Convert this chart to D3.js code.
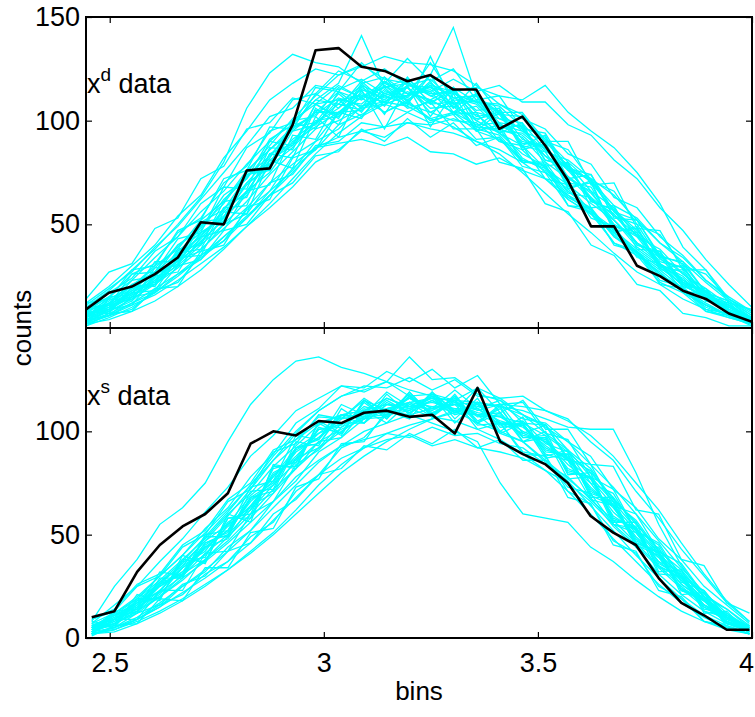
<!DOCTYPE html>
<html>
<head>
<meta charset="utf-8">
<script src="https://cdn.jsdelivr.net/npm/d3@7"></script>
<style>
  body { margin: 0; background: #fff; }
  text { font-family: "Liberation Sans", Arial, sans-serif; }
</style>
</head>
<body>
<svg id="chart" width="755" height="717"></svg>
<script>
// bin centres (x) for each panel
const binsTop = [2.4446, 2.4982, 2.5518, 2.6055, 2.6591, 2.7127, 2.7663, 2.8199, 2.8736, 2.9272,
                 2.9808, 3.0344, 3.0880, 3.1417, 3.1953, 3.2489, 3.3025, 3.3561, 3.4098, 3.4634,
                 3.5170, 3.5706, 3.6242, 3.6779, 3.7315, 3.7851, 3.8387, 3.8923, 3.9460, 3.9996];
const binsBottom = [2.458, 2.511, 2.564, 2.617, 2.670, 2.723, 2.776, 2.829, 2.882, 2.935,
                    2.988, 3.041, 3.094, 3.147, 3.200, 3.253, 3.306, 3.359, 3.412, 3.465,
                    3.518, 3.570, 3.623, 3.676, 3.729, 3.782, 3.835, 3.888, 3.941, 3.994];

// observed counts (black lines)
const dataTop = [9, 17, 20, 26, 34, 51, 50, 76, 77, 98, 134, 135, 126, 124, 119,
                 122, 115, 115, 96, 102, 88, 71, 49, 49, 30, 25, 18, 14, 7, 3];
const dataBottom = [10, 13, 32, 45, 54, 60, 70, 94, 100, 98, 105, 104, 109, 110, 107,
                    108, 99, 121, 95, 89, 84, 75, 59, 51, 45, 29, 17, 11, 4, 4];

// simulated counts (cyan lines)
const simTop = [
  [9,15,26,31,46,53,70,78,95,99,110,108,117,112,116,108,109,97,96,82,76,62,55,41,35,22,17,8,5,2],
  [2,6,9,18,22,35,42,57,66,83,90,104,105,113,110,118,111,112,103,102,90,86,71,66,50,45,30,26,14,8],
  [6,11,18,27,36,49,60,75,88,101,112,122,126,131,128,127,124,117,108,103,91,80,70,57,47,35,26,17,10,5],
  [4,8,14,21,29,38,48,58,70,79,87,92,95,97,99,96,94,90,86,80,72,64,55,46,37,29,21,14,8,3],
  [7,9,19,22,36,41,58,65,84,89,105,103,116,110,119,109,114,102,104,89,88,70,68,49,46,30,27,13,11,3],
  [5,12,15,26,31,46,53,70,77,95,98,110,108,117,111,122,145,112,104,95,90,78,71,56,46,31,25,15,8,4],
  [6,10,17,25,35,44,57,70,82,98,110,118,141,116,120,112,115,104,101,96,83,77,62,55,41,34,22,17,8,4],
  [3,7,12,19,26,35,44,54,64,75,87,89,91,88,92,85,84,79,82,76,72,62,55,47,38,30,21,14,8,3],
  [10,18,28,38,50,63,80,106,123,132,128,126,118,121,113,110,104,103,94,88,77,69,56,48,36,28,19,12,6,2],
  [2,4,8,13,20,28,38,49,60,72,84,94,102,108,112,117,114,116,112,110,117,104,95,87,75,60,39,28,14,7],
  [4,9,16,21,31,42,52,66,75,90,97,104,113,109,117,116,108,110,99,97,81,78,61,57,40,36,22,18,9,5],
  [3,8,13,23,30,40,50,61,74,85,96,100,106,108,104,110,104,107,96,92,80,72,66,50,44,30,24,14,10,4],
  [8,12,21,27,40,47,62,72,86,95,104,114,110,118,113,115,107,101,103,88,85,69,60,52,39,31,20,16,7,3],
  [5,11,14,25,34,45,54,69,79,91,99,106,115,111,112,128,111,108,98,95,86,76,63,54,45,31,23,16,9,4],
  [1,5,10,17,25,34,42,53,64,77,86,98,103,109,114,110,116,109,108,101,96,84,79,63,58,44,35,23,15,8],
  [6,13,20,30,38,52,61,76,86,97,103,111,107,112,108,104,100,99,90,86,75,67,55,46,36,26,18,11,6,2],
  [4,10,17,23,33,43,56,66,81,88,100,102,112,116,118,113,114,105,106,91,87,73,65,52,41,35,23,17,10,4],
  [2,6,11,16,23,31,39,49,58,68,80,86,95,92,99,98,101,97,95,94,85,81,72,64,52,41,32,22,13,6],
  [7,14,20,29,39,51,57,73,83,96,104,104,111,104,109,101,104,95,91,81,78,66,57,45,35,27,17,11,6,3],
  [5,9,15,24,32,41,53,64,78,87,99,108,105,115,107,131,108,113,101,99,86,79,66,58,44,38,26,19,11,5],
  [8,15,23,34,44,56,66,79,90,100,108,110,112,109,107,101,97,90,84,75,65,55,46,36,27,21,14,9,5,2],
  [3,14,13,29,30,50,51,74,76,99,96,114,106,121,109,119,104,112,94,99,78,80,58,59,38,37,20,19,6,5],
  [8,7,20,21,38,40,61,63,87,86,108,101,118,107,121,108,116,100,106,87,90,68,70,47,48,28,28,13,11,2],
  [12,14,28,30,47,52,72,76,97,96,113,106,119,109,116,104,110,95,98,80,79,59,58,40,37,21,19,8,6,1],
  [1,7,8,19,20,37,40,58,62,82,86,104,101,117,108,122,106,118,104,104,90,90,69,70,48,47,28,28,12,9],
  [4,6,15,17,30,33,47,50,64,70,83,85,96,90,101,92,99,88,92,80,80,65,63,49,45,32,29,16,12,3],
  [9,11,23,25,40,48,64,72,91,98,116,114,128,118,130,119,125,110,112,96,94,76,72,54,50,33,29,15,11,3],
  [6,12,19,22,37,46,53,74,78,97,99,113,104,119,110,117,106,113,96,98,81,79,61,57,40,37,21,18,8,5],
  [2,9,11,25,27,44,47,66,69,93,91,110,102,114,112,116,113,109,107,97,92,77,74,56,52,35,31,17,13,4],
  [7,10,21,20,36,38,58,59,84,82,106,98,117,103,120,102,116,97,105,86,89,67,71,46,49,29,30,14,12,3],
  [5,15,16,32,32,51,53,75,79,100,102,116,111,119,113,114,103,104,90,88,72,69,53,49,34,31,18,16,6,4],
  [4,8,17,18,34,35,56,55,81,77,102,92,115,96,117,97,113,95,104,88,93,72,74,53,52,34,32,17,13,5],
  [10,11,26,27,43,46,68,67,90,88,108,102,114,104,110,100,103,91,92,78,75,59,56,41,37,23,20,9,7,2],
  [14,27,31,48,53,72,78,96,99,111,108,117,111,116,106,109,96,96,80,77,60,56,40,35,21,18,7,5,1,1],
  [12,20,30,40,54,64,82,95,110,118,125,122,127,120,118,112,108,100,94,84,78,64,58,44,36,25,18,10,6,2],
  [8,17,24,37,44,60,68,87,94,110,113,124,119,125,117,120,110,109,98,93,83,73,62,52,41,31,22,14,8,3],
  [6,9,18,21,33,37,50,55,70,74,88,90,99,97,104,99,104,98,99,90,87,77,71,59,53,41,34,23,14,6],
  [11,19,27,39,49,62,75,88,102,106,117,115,120,113,116,106,107,96,93,81,77,63,57,44,37,26,19,11,6,2],
  [3,6,12,17,26,33,44,53,66,76,90,96,107,109,117,114,120,114,117,109,109,98,93,81,72,58,47,33,21,10]
];
const simBottom = [
  [8,25,38,55,63,75,95,113,125,134,136,131,128,124,120,117,114,108,104,99,95,86,77,64,52,40,28,18,10,5],
  [3,7,13,22,30,41,50,62,74,85,95,101,106,110,108,104,100,95,75,60,58,56,44,37,28,20,13,8,4,2],
  [2,5,10,17,25,33,42,52,63,74,85,93,100,104,108,111,113,114,112,110,106,102,101,101,80,55,35,20,10,5],
  [5,10,18,27,37,49,61,74,88,100,110,117,120,124,136,125,126,118,115,108,99,91,78,66,53,41,29,19,10,4],
  [2,4,9,15,22,29,37,46,57,68,79,87,92,96,98,93,96,92,90,87,81,75,66,55,45,34,24,15,8,3],
  [5,11,17,27,35,47,55,69,78,92,99,108,107,116,111,116,109,113,104,103,92,87,72,64,48,39,26,18,8,4],
  [4,6,15,21,34,40,55,62,80,86,101,103,112,109,116,111,115,107,108,98,96,82,77,59,52,35,29,15,10,3],
  [9,14,26,31,45,52,67,75,91,96,107,106,115,110,116,109,113,103,104,90,88,71,65,47,41,25,19,8,5,2],
  [2,4,9,15,25,32,44,52,66,76,90,97,106,107,113,110,116,110,113,106,104,95,88,72,63,48,38,25,16,7],
  [6,9,17,25,32,46,51,67,74,91,97,107,104,113,110,117,109,114,104,103,91,88,71,65,47,41,24,19,7,5],
  [3,8,14,23,35,42,56,63,79,87,101,102,111,108,117,109,114,108,109,97,97,81,78,58,53,36,30,16,11,4],
  [4,10,13,26,31,45,52,68,75,92,96,108,106,115,109,115,108,111,103,104,90,89,70,66,46,42,23,20,8,5],
  [5,9,16,26,36,47,59,72,86,99,110,117,122,121,126,120,125,117,116,108,103,91,82,67,56,41,30,18,11,4],
  [3,7,13,20,29,37,46,56,66,78,86,93,96,99,97,102,98,99,94,92,84,78,67,57,46,35,25,16,8,3],
  [7,12,20,30,40,51,62,74,86,96,104,108,110,109,111,107,105,101,96,89,81,71,60,48,37,26,17,10,5,2],
  [4,7,12,20,28,38,47,58,70,82,92,100,107,111,114,116,115,114,112,108,102,95,84,73,60,47,34,22,12,5],
  [5,8,16,23,34,43,54,64,78,88,99,104,110,113,112,114,111,111,105,102,93,86,73,63,49,39,26,18,9,4],
  [3,9,14,25,32,44,52,66,76,90,97,106,108,111,114,112,113,109,107,100,95,84,75,61,51,37,28,16,10,4],
  [2,4,8,13,19,26,33,42,51,62,74,84,92,99,103,106,109,108,107,104,98,90,80,68,55,43,31,20,11,5],
  [6,11,19,28,38,48,60,70,83,93,103,108,110,116,112,111,110,104,100,95,86,77,68,54,44,31,21,13,7,3],
  [2,3,7,12,18,25,33,41,50,60,70,80,88,95,101,106,110,112,113,112,110,105,98,88,75,62,46,31,18,8],
  [2,12,12,29,29,49,49,71,72,95,93,111,104,118,108,119,106,116,100,107,88,91,68,68,44,44,21,22,5,6],
  [7,5,19,19,38,37,58,58,83,83,104,98,115,106,119,107,118,104,112,95,100,79,80,56,56,32,33,12,13,2],
  [9,13,25,30,44,50,66,72,90,94,108,106,116,109,118,107,115,101,104,89,88,68,65,45,42,23,20,8,6,2],
  [1,6,7,19,18,34,34,51,53,73,77,94,95,110,106,119,110,121,109,115,101,101,84,83,62,60,38,35,17,12],
  [3,5,12,16,26,30,42,46,60,67,79,82,93,91,99,94,101,92,96,86,86,73,70,55,51,37,32,20,14,5],
  [5,12,19,30,40,53,63,78,89,104,111,122,121,129,124,130,121,127,113,114,99,96,78,72,52,45,27,23,9,6],
  [6,9,18,22,37,39,58,60,82,85,102,99,115,107,119,108,117,105,111,97,98,80,78,57,54,34,31,14,12,3],
  [3,11,14,26,31,46,50,68,71,92,94,108,106,114,109,117,104,114,99,104,87,89,69,64,46,41,23,19,7,4],
  [8,6,21,18,40,36,60,56,84,82,105,99,114,106,117,108,115,104,109,95,97,77,78,55,53,31,30,13,10,3],
  [4,13,14,32,30,50,52,73,76,98,96,113,108,119,112,117,109,114,102,103,89,86,67,64,45,40,23,18,7,5],
  [5,7,17,20,31,38,49,60,72,82,95,97,110,104,114,107,117,104,113,99,103,86,84,64,60,42,36,21,14,6],
  [2,9,9,23,23,41,42,60,66,84,91,102,107,108,117,111,120,111,115,104,103,87,81,66,57,42,33,20,11,5],
  [7,16,25,37,48,61,73,88,98,110,116,122,119,124,117,118,110,108,99,95,85,76,64,52,40,29,19,11,6,2],
  [2,5,9,16,21,31,37,49,56,71,79,92,97,108,110,118,115,121,116,117,110,106,95,86,71,58,43,30,17,8],
  [4,11,15,27,30,44,48,64,70,87,92,104,104,113,111,115,110,113,104,105,94,90,75,70,52,46,29,23,10,6]
];

const xTicks = [2.5, 3, 3.5, 4];
const xTickLabels = ["2.5", "3", "3.5", "4"];
const yTicksTop = [50, 100, 150];
const yTicksBottom = [0, 50, 100];

const svg = d3.select("#chart");
const left = 86, right = 752;
const fontSize = 27;

const x = d3.scaleLinear().domain([2.4446, 4.0]).range([left, right]);

function drawPanel(id, top, bottom, bins, sims, data, yTicks, sup, showXLabels) {
  const y = d3.scaleLinear().domain([0, 150]).range([bottom, top]);
  const g = svg.append("g");

  g.append("clipPath").attr("id", id)
    .append("rect").attr("x", left).attr("y", top)
    .attr("width", right - left).attr("height", bottom - top);

  // ticks on all four sides, pointing inward
  const yl = g.append("g").attr("transform", `translate(${left},0)`)
    .call(d3.axisLeft(y).tickValues(yTicks).tickSize(-6).tickPadding(6));
  const yr = g.append("g").attr("transform", `translate(${right},0)`)
    .call(d3.axisRight(y).tickValues(yTicks).tickSize(-6).tickFormat(""));
  const xt = g.append("g").attr("transform", `translate(0,${top})`)
    .call(d3.axisTop(x).tickValues(xTicks).tickSize(-6).tickFormat(""));
  const xb = g.append("g").attr("transform", `translate(0,${bottom})`)
    .call(d3.axisBottom(x).tickValues(xTicks).tickSize(-6).tickPadding(15)
      .tickFormat((d, i) => showXLabels ? xTickLabels[i] : ""));
  [yl, yr, xt, xb].forEach(a => {
    a.select(".domain").remove();
    a.selectAll("line").attr("stroke", "#000").attr("stroke-width", 1.2);
    a.selectAll("text").attr("fill", "#000")
      .style("font-size", fontSize + "px")
      .style("font-family", '"Liberation Sans", Arial, sans-serif');
  });
  // the last label sits at the right edge of the window
  xb.selectAll("text").filter(d => d === 4).attr("dx", -6);

  const line = d3.line()
    .x((d, i) => x(bins[i]))
    .y(d => y(d));

  const plot = g.append("g").attr("clip-path", `url(#${id})`);
  plot.selectAll("path.sim")
    .data(sims)
    .join("path")
    .attr("class", "sim")
    .attr("d", line)
    .attr("fill", "none")
    .attr("stroke", "#00ffff")
    .attr("stroke-width", 1.3);

  plot.append("path")
    .datum(data)
    .attr("d", line)
    .attr("fill", "none")
    .attr("stroke", "#000")
    .attr("stroke-width", 2.6)
    .attr("stroke-linejoin", "round");

  // panel label like "x^d data"
  const label = g.append("text")
    .attr("x", left + 1)
    .attr("y", top + (sup === "d" ? 76 : 77))
    .style("font-size", fontSize + "px")
    .attr("fill", "#000");
  label.append("tspan").text("x");
  label.append("tspan").attr("dy", -12).style("font-size", "19px").text(sup);
  label.append("tspan").attr("dy", 12).style("font-size", fontSize + "px").text("\u00a0data");

  g.append("rect")
    .attr("x", left).attr("y", top)
    .attr("width", right - left).attr("height", bottom - top)
    .attr("fill", "none")
    .attr("stroke", "#000")
    .attr("stroke-width", 2);
}

drawPanel("clipTop", 17, 328, binsTop, simTop, dataTop, yTicksTop, "d", false);
drawPanel("clipBottom", 328, 638, binsBottom, simBottom, dataBottom, yTicksBottom, "s", true);

svg.append("text")
  .attr("x", (left + right) / 2)
  .attr("y", 700)
  .attr("text-anchor", "middle")
  .style("font-size", "26px")
  .text("bins");

svg.append("text")
  .attr("transform", "translate(31,328) rotate(-90)")
  .attr("text-anchor", "middle")
  .style("font-size", "26px")
  .text("counts");
</script>
</body>
</html>
